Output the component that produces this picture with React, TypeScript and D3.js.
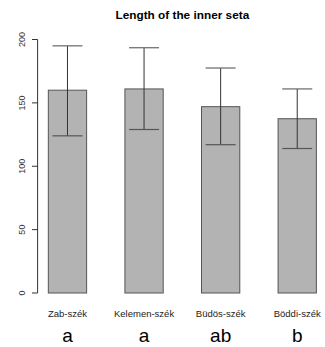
import React from "react";
import * as d3 from "d3";

const categories = ["Zab-szék", "Kelemen-szék", "Büdös-szék", "Böddi-szék"];
const means = [160, 161, 147, 137.5];
const upper = [195, 193.5, 177.5, 161];
const lower = [124, 129, 117, 114];
const groups = ["a", "a", "ab", "b"];
const yTicks = [0, 50, 100, 150, 200];
const title = "Length of the inner seta";

export default function App() {
  const W = 325, H = 347;
  // R barplot: bars at [1,2],[3,4],[5,6],[7,8], xlim [1,8] extended 4%
  const x = d3.scaleLinear().domain([0.72, 8.28]).range([37.6, 327.1]);
  const y = d3.scaleLinear().domain([0, 200]).range([293, 39.5]);
  const font = "'Liberation Sans', Arial, sans-serif";
  return (
    <svg width={W} height={H} style={{ position: "absolute", left: 0, top: 0, background: "#fff" }}>
      <text x={(x(0.72) + x(8.28)) / 2} y={19} textAnchor="middle" fontFamily={font} fontWeight="bold" fontSize={11.8} fill="#000">{title}</text>
      {/* y axis */}
      <line x1={37.6} x2={37.6} y1={y(0)} y2={y(200)} stroke="#333" strokeWidth={1} />
      {yTicks.map((t) => (
        <g key={t}>
          <line x1={32} x2={37.6} y1={y(t)} y2={y(t)} stroke="#333" strokeWidth={1} />
          <text transform={`translate(25,${y(t)}) rotate(-90)`} textAnchor="middle" fontFamily={font} fontSize={9} fill="#333">{t}</text>
        </g>
      ))}
      {categories.map((c, i) => {
        const l = 1 + 2 * i, r = 2 + 2 * i, cx = x((l + r) / 2);
        return (
          <g key={c}>
            <rect x={x(l)} y={y(means[i])} width={x(r) - x(l)} height={y(0) - y(means[i])} fill="#b3b3b3" stroke="#555" strokeWidth={1} />
            <line x1={cx} x2={cx} y1={y(upper[i])} y2={y(lower[i])} stroke="#333" strokeWidth={1} />
            <line x1={cx - 15} x2={cx + 15} y1={y(upper[i])} y2={y(upper[i])} stroke="#666" strokeWidth={1.2} />
            <line x1={cx - 15} x2={cx + 15} y1={y(lower[i])} y2={y(lower[i])} stroke="#555" strokeWidth={1.2} />
            <text x={cx} y={317} textAnchor="middle" fontFamily={font} fontSize={9.5} fill="#222">{c}</text>
            <text x={cx} y={342} textAnchor="middle" fontFamily={font} fontSize={19} fill="#000">{groups[i]}</text>
          </g>
        );
      })}
    </svg>
  );
}
